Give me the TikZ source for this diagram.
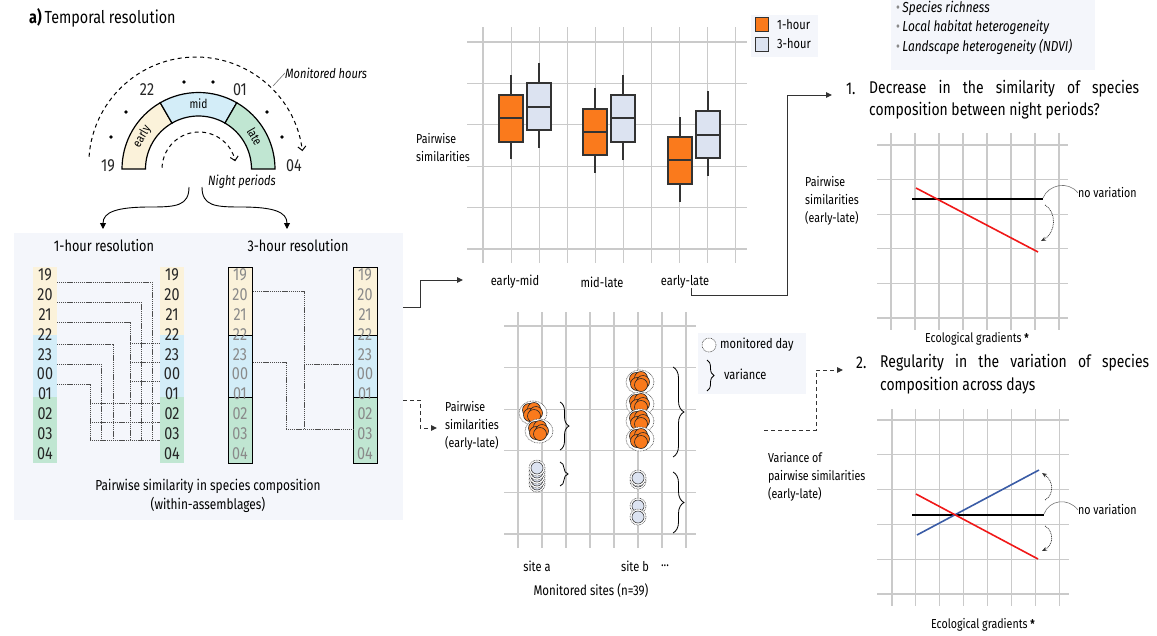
\documentclass[tikz,border=0pt]{standalone}
\usepackage{fontspec}
\setmainfont{Fira Sans}[FakeStretch=0.82]
\usetikzlibrary{arrows.meta,decorations.pathreplacing,calc}
\definecolor{cream}{HTML}{FBF2DA}
\definecolor{midblue}{HTML}{D3EDF8}
\definecolor{lategreen}{HTML}{C0E6D2}
\definecolor{panelbg}{HTML}{F4F6FB}
\definecolor{gridc}{HTML}{CACACA}
\definecolor{orangef}{HTML}{FA7A1C}
\definecolor{boxblue}{HTML}{DCE3F1}
\definecolor{redl}{HTML}{F01818}
\definecolor{bluel}{HTML}{3A5CA6}
\definecolor{numgray}{HTML}{8A8A8A}
\newcommand\bxplot[7]{%
  \draw[bx] (#1,#2) -- (#1,#3) (#1,#5) -- (#1,#6);
  \filldraw[bx, fill=#7] ({#1-12},#3) rectangle ({#1+12},#5);
  \draw[bx] ({#1-12},#4) -- ({#1+12},#4);}
\begin{document}
\begin{tikzpicture}[x=1pt,y=-1pt,
  txt/.style={inner sep=0pt, font=\fontsize{13}{18}\selectfont},
  hnum/.style={inner sep=0pt, font=\fontsize{17.5}{17.5}\selectfont, text=black!85},
  gnum/.style={inner sep=0pt, font=\fontsize{17.5}{17.5}\selectfont, text=numgray},
  seg/.style={draw=black, line width=1.2pt},
  gridl/.style={draw=gridc, line width=1.1pt},
  dotc/.style={draw=black!70, line width=0.9pt, dash pattern=on 1.2pt off 0.7pt},
  bx/.style={draw=black!80, line width=1.3pt},
  conn/.style={draw=black!80, line width=1pt, -{Triangle[length=6pt,width=5.5pt]}},
  dconn/.style={conn, dash pattern=on 4pt off 3pt},
  carr/.style={draw=black, line width=0.9pt, -{Triangle[length=6pt,width=6pt]}},
  darc/.style={draw=black, line width=1pt, dash pattern=on 4pt off 3.5pt, -{Straight Barb[length=4pt,width=8pt]}},
  dotarr/.style={draw=black!80, line width=0.7pt, dash pattern=on 1pt off 0.8pt, -{Stealth[length=5pt,width=4pt]}},
  leader/.style={draw=black!55, line width=0.6pt},
  brc/.style={draw=black, line width=0.8pt, decorate},
  ogroup/.pic={
    \filldraw[fill=white, draw=black!70, line width=0.6pt, dash pattern=on 0.8pt off 0.8pt] (0,0) ellipse[x radius=14pt, y radius=12pt];
    \foreach \dx/\dy in {-4/-3, 1/-4, -3/2, 3/0, 1/3} {
      \filldraw[fill=orangef, draw=black!85, line width=0.6pt] (\dx,\dy) circle[radius=6.5pt];}
  },
  bdot/.pic={
    \filldraw[fill=white, draw=black!70, line width=0.6pt, dash pattern=on 0.8pt off 0.8pt] (0,0) circle[radius=8pt];
    \filldraw[fill=boxblue, draw=black!75, line width=0.6pt] (0,0) circle[radius=6pt];
  }]
\path[use as bounding box] (0,0) rectangle (1157,635);

% ---------------- title
\node[anchor=west, inner sep=0pt, font=\fontsize{17.5}{20}\selectfont] (title) at (29,18) {\textbf{a)}\,Temporal resolution};

% ---------------- night arc
\coordinate (c) at (198.5,169);
\filldraw[seg, fill=cream] ($(c)+(180:76.5pt)$) arc[start angle=180, end angle=120, radius=76.5pt] -- ($(c)+(120:53pt)$) arc[start angle=120, end angle=180, radius=53pt] -- cycle;
\filldraw[seg, fill=midblue] ($(c)+(120:76.5pt)$) arc[start angle=120, end angle=60, radius=76.5pt] -- ($(c)+(60:53pt)$) arc[start angle=60, end angle=120, radius=53pt] -- cycle;
\filldraw[seg, fill=lategreen] ($(c)+(60:76.5pt)$) arc[start angle=60, end angle=0, radius=76.5pt] -- ($(c)+(0:53pt)$) arc[start angle=0, end angle=60, radius=53pt] -- cycle;
\node[txt, font=\fontsize{12.5}{12.5}\selectfont, rotate=60] (early) at ($(c)+(150:65pt)$) {early};
\node[txt, font=\fontsize{12.5}{12.5}\selectfont] (mid) at ($(c)+(90:65pt)$) {mid};
\node[txt, font=\fontsize{12.5}{12.5}\selectfont, rotate=-60] (late) at ($(c)+(30:65pt)$) {late};
\node[hnum] (a19) at (108,166) {19};
\node[hnum] (a22) at (147,90) {22};
\node[hnum] (a01) at (240,90) {01};
\node[hnum] (a04) at (294,166) {04};
\foreach \px/\py in {111/137, 126/112, 184/82, 213/82, 267/112, 282/137}
  \fill (\px,\py) circle[radius=1.8pt];
\coordinate (c2) at (196,164.2);
\draw[darc] ($(c2)+(176:107.2pt)$) arc[start angle=176, end angle=7, radius=107.2pt];
\coordinate (c3) at (199,169);
\draw[darc] ($(c3)+(178:37pt)$) arc[start angle=178, end angle=12, radius=37pt];
\node[txt, anchor=west, font=\fontsize{13.5}{13.5}\selectfont\itshape] (mh) at (285,73) {Monitored hours};
\draw[leader] (273,86) -- (mh.west);
\node[txt, font=\fontsize{13.5}{13.5}\selectfont\itshape] (np) at (242,182) {Night periods};

% ---------------- curved arrows to panel
\coordinate (sL) at (189,187);
\coordinate (sR) at (202,187);
\coordinate (eL) at (103,229);
\coordinate (eR) at (287,229);
\draw[carr] (sL) .. controls (189,206) and (176,207) .. (150,207) .. controls (117,207) and (103,212) .. (eL);
\draw[carr] (sR) .. controls (202,206) and (215,207) .. (241,207) .. controls (274,207) and (287,212) .. (eR);

% ---------------- panel
\fill[panelbg] (14,233) rectangle (403,520);
\node[txt, font=\fontsize{15.5}{15.5}\selectfont] (h1) at (104,246) {1-hour resolution};
\node[txt, font=\fontsize{15.5}{15.5}\selectfont] (h3) at (298,246) {3-hour resolution};

% 1-hour columns
\foreach \xa in {33,160} {
  \fill[cream] (\xa,267) rectangle ({\xa+24},335);
  \fill[midblue] (\xa,335) rectangle ({\xa+24},397);
  \fill[lategreen] (\xa,397) rectangle ({\xa+24},463);
}
\foreach \h [count=\i from 0] in {19,20,21,22,23,00,01,02,03,04} {
  \node[hnum] (L\h) at (45,{275+19.8*\i}) {\h};
  \node[hnum] (R\h) at (172,{275+19.8*\i}) {\h};
}
\draw[dotc] (57,282) -| (152,440);
\draw[dotc] (57,302) -| (141,440);
\draw[dotc] (57,322) -| (130,440);
\draw[dotc] (57,344) -| (113,440);
\draw[dotc] (57,364) -| (101,440);
\draw[dotc] (57,384) -| (90,440);
\draw[dotc] (130,343) -- (160,343) (130,362) -- (160,362) (130,381) -- (160,381);
\draw[dotc] (90,403) -- (160,403) (90,422) -- (160,422) (90,440) -- (160,440);

% 3-hour columns
\foreach \xa in {228,353} {
  \filldraw[seg, line width=1pt, fill=cream] (\xa,267) rectangle ({\xa+24},335);
  \filldraw[seg, line width=1pt, fill=midblue] (\xa,335) rectangle ({\xa+24},397);
  \filldraw[seg, line width=1pt, fill=lategreen] (\xa,397) rectangle ({\xa+24},463);
}
\foreach \h [count=\i from 0] in {19,20,21,22,23,00,01,02,03,04} {
  \node[gnum] (T\h) at (240,{275+19.8*\i}) {\h};
  \node[gnum] (S\h) at (365,{275+19.8*\i}) {\h};
}
\draw[dotc] (253,291) -| (304,429);
\draw[dotc] (253,362) -| (286,429);
\draw[dotc] (304,364) -- (353,364);
\draw[dotc] (286,429) -- (353,429);

\node[txt, font=\fontsize{14.5}{19}\selectfont, align=center] (cap) at (208,496) {Pairwise similarity in species composition\\(within-assemblages)};

% ---------------- connectors from panel
\coordinate (p1) at (403,307);
\coordinate (p2) at (403,400);
\coordinate (t1) at (463,280);
\coordinate (t2) at (437,428);
\draw[conn] (p1) -- (420,307) -- (420,280) -- (t1);
\draw[dconn] (p2) -- (420,400) -- (420,428) -- (t2);

% ---------------- top chart
\foreach \k in {0,...,9} \draw[gridl] ({483+28.1*\k},27) -- ({483+28.1*\k},263);
\foreach \k in {0,...,5} \draw[gridl] (467,{42+41.4*\k}) -- (747,{42+41.4*\k});
\bxplot{511}{75}{95}{118}{142}{159}{orangef}
\bxplot{539}{63}{83}{107}{130}{148}{boxblue}
\bxplot{595}{88}{109}{132}{155}{173}{orangef}
\bxplot{623}{75}{95}{118}{142}{160}{boxblue}
\bxplot{680}{117}{137}{160}{184}{202}{orangef}
\bxplot{708}{91}{111}{135}{158}{176}{boxblue}
\node[txt, font=\fontsize{13.5}{13.5}\selectfont] (em) at (515,282) {early-mid};
\node[txt, font=\fontsize{13.5}{13.5}\selectfont] (ml) at (602,282) {mid-late};
\node[txt, font=\fontsize{13.5}{13.5}\selectfont] (el) at (685,282) {early-late};
\node[txt, anchor=west, align=left] (psy) at (416,148) {Pairwise\\similarities};
% legend
\fill[panelbg] (751,15) rectangle (818,57);
\filldraw[bx, line width=1pt, fill=orangef] (755,17) rectangle (768,31);
\filldraw[bx, line width=1pt, fill=boxblue] (755,37) rectangle (768,51);
\node[txt, anchor=west, font=\fontsize{13.5}{13.5}\selectfont] (lg1) at (777,25) {1-hour};
\node[txt, anchor=west, font=\fontsize{13.5}{13.5}\selectfont] (lg2) at (777,44) {3-hour};

% connector to question 1
\coordinate (q1) at (832,95);
\draw[conn] (691,288) -- (691,295) -- (787,295) -- (787,95) -- (q1);

% ---------------- top-right box
\fill[panelbg] (891,0) rectangle (1095,70);
\node[txt, anchor=west, font=\fontsize{14.5}{14.5}\selectfont\itshape] (b1) at (896,8) {{\color{numgray}\upshape•}\,Species richness};
\node[txt, anchor=west, font=\fontsize{14.5}{14.5}\selectfont\itshape] (b2) at (896,27) {{\color{numgray}\upshape•}\,Local habitat heterogeneity};
\node[txt, anchor=west, font=\fontsize{14.5}{14.5}\selectfont\itshape] (b3) at (896,47) {{\color{numgray}\upshape•}\,Landscape heterogeneity (NDVI)};

% ---------------- question 1
\node[txt, anchor=west, font=\fontsize{17}{17}\selectfont] (n1) at (846,89) {1.};
\node[txt, anchor=west, font=\fontsize{17}{17}\selectfont] (q1a) at (869,89) {\makebox[270pt][s]{Decrease in the similarity of species}};
\node[txt, anchor=west, font=\fontsize{17}{17}\selectfont] (q1b) at (869,111) {composition between night periods?};
\foreach \k in {0,...,7} \draw[gridl] ({891+24*\k},133) -- ({891+24*\k},330);
\foreach \k in {0,...,5} \draw[gridl] (877,{145+34.6*\k}) -- (1068,{145+34.6*\k});
\draw[black, line width=2pt] (912,199) -- (1043,199);
\draw[redl, line width=1.6pt] (916,188) -- (1038,252);
\node[txt, anchor=west] (nv1) at (1078,193) {no variation};
\draw[leader] (1043,198) .. controls (1048,185) and (1068,180) .. (nv1.west);
\draw[dotarr] (1045,205) .. controls (1057,212) and (1056,233) .. (1041,241);
\node[txt, anchor=west, align=left] (ps1) at (805,201) {Pairwise\\similarities\\(early-late)};
\node[txt] (eg1) at (977,339) {Ecological gradients \textbf{\large*}};

% ---------------- bottom-middle chart
\foreach \k in {0,...,7} \draw[gridl] ({518+24*\k},312) -- ({518+24*\k},548);
\foreach \k in {0,...,5} \draw[gridl] (504,{326+41.6*\k}) -- (696,{326+41.6*\k});
\node[txt, anchor=west, align=left] (ps2) at (445,426) {Pairwise\\similarities\\(early-late)};
% site a
\pic at (533,413) {ogroup};
\pic at (539,431) {ogroup};
\foreach \yy in {484,480,476,472,468} \pic at (537,\yy) {bdot};
% site b
\pic at (640,382) {ogroup};
\pic at (640,404) {ogroup};
\pic at (640,421) {ogroup};
\pic at (640,439) {ogroup};
\pic at (638,481) {bdot};
\pic at (638,478) {bdot};
\pic at (638,506) {bdot};
\pic at (638,517) {bdot};
% braces
\draw[brc, decoration={brace, amplitude=9pt}] (560,402) -- (560,450);
\draw[brc, decoration={brace, amplitude=8pt}] (560,462) -- (560,486);
\draw[brc, decoration={brace, amplitude=11pt}] (673,367) -- (673,457);
\draw[brc, decoration={brace, amplitude=11pt}] (673,472) -- (673,533);
\node[txt, font=\fontsize{13.5}{13.5}\selectfont] (sa) at (537,566) {site a};
\node[txt, font=\fontsize{13.5}{13.5}\selectfont] (sb) at (635,566) {site b};
\node[txt, font=\fontsize{13.5}{13.5}\selectfont] (sd) at (665,566) {...};
\node[txt, font=\fontsize{14}{14}\selectfont] (ms) at (591,591) {Monitored sites (n=39)};
% legend
\fill[panelbg] (698,333) rectangle (806,394);
\filldraw[fill=white, draw=black!70, line width=0.6pt, dash pattern=on 0.8pt off 0.8pt] (709,345) circle[radius=7pt];
\node[txt, anchor=west, font=\fontsize{13.5}{13.5}\selectfont] (lmd) at (720,345) {monitored day};
\draw[brc, decoration={brace, amplitude=7pt}] (707,360) -- (707,391);
\node[txt, anchor=west, font=\fontsize{13.5}{13.5}\selectfont] (lva) at (724,374) {variance};

% connector to question 2
\coordinate (v0) at (764,430);
\coordinate (q2) at (843,370);
\draw[dconn] (v0) -- (816,430) -- (816,370) -- (q2);

% ---------------- question 2
\node[txt, anchor=west, font=\fontsize{17}{17}\selectfont] (n2) at (856,363) {2.};
\node[txt, anchor=west, font=\fontsize{17}{17}\selectfont] (q2a) at (880,363) {\makebox[269pt][s]{Regularity in the variation of species}};
\node[txt, anchor=west, font=\fontsize{17}{17}\selectfont] (q2b) at (880,386) {composition across days};
\foreach \k in {0,...,7} \draw[gridl] ({892+23.9*\k},409) -- ({892+23.9*\k},606);
\foreach \k in {0,...,5} \draw[gridl] (877,{420+34.8*\k}) -- (1069,{420+34.8*\k});
\draw[black, line width=2pt] (912,515) -- (1044,515);
\draw[bluel, line width=1.6pt] (917,535) -- (1039,470);
\draw[redl, line width=1.6pt] (916,494) -- (1038,559);
\node[txt, anchor=west] (nv2) at (1078,510) {no variation};
\draw[leader] (1044,514) .. controls (1049,500) and (1068,497) .. (nv2.west);
\draw[dotarr] (1045,500) .. controls (1054,495) and (1054,481) .. (1042,473);
\draw[dotarr] (1045,526) .. controls (1054,531) and (1054,545) .. (1042,551);
\node[txt, anchor=west, align=left] (vp) at (768,477) {Variance of\\pairwise similarities\\(early-late)};
\node[txt] (eg2) at (983,625) {Ecological gradients \textbf{\large*}};
\end{tikzpicture}
\end{document}
